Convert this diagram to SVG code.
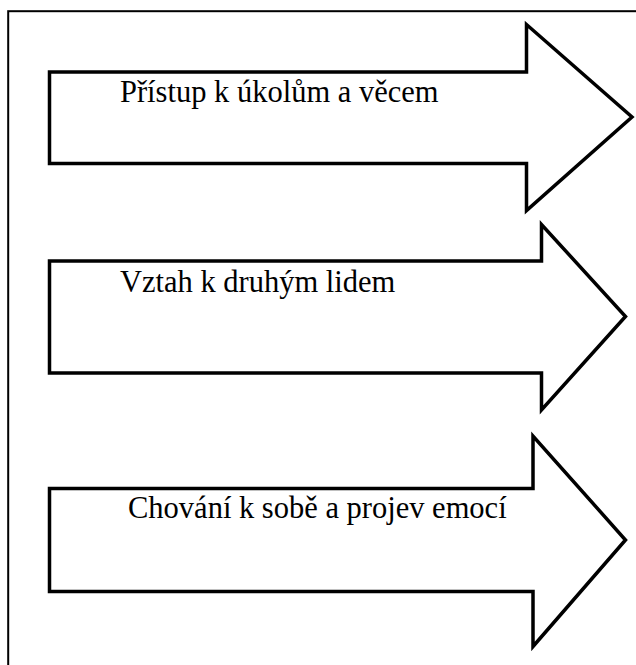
<svg xmlns="http://www.w3.org/2000/svg" width="636" height="665" viewBox="0 0 636 665">
  <style>
    .frame { fill: none; stroke: #000; stroke-width: 2; }
    .arrow { fill: #fff; stroke: #000; stroke-width: 3.5; stroke-linejoin: miter; stroke-miterlimit: 10; }
    .label { font-family: "Liberation Serif", "Times New Roman", serif; font-size: 30.5px; fill: #000; }
  </style>
  <rect width="636" height="665" fill="#fff"/>
  <!-- outer frame, running off the right and bottom edges -->
  <rect class="frame" x="8.2" y="11.2" width="640" height="670"/>
  <g id="connectors"></g>
  <g id="node-ukoly">
    <polygon class="arrow" points="49.5,72 526.5,72 526.5,24.5 632,117 526.5,210.5 526.5,163.5 49.5,163.5"/>
    <text class="label" x="120" y="102">Přístup k úkolům a věcem</text>
  </g>
  <g id="node-lide">
    <polygon class="arrow" points="49.5,261 541.5,261 541.5,224.5 625.5,316.5 541.5,410 541.5,373 49.5,373"/>
    <text class="label" x="120" y="292">Vztah k druhým lidem</text>
  </g>
  <g id="node-emoce">
    <polygon class="arrow" points="49.5,488.5 533,488.5 533,436 625.5,540 533,646.5 533,591.5 49.5,591.5"/>
    <text class="label" x="128" y="518">Chování k sobě a projev emocí</text>
  </g>
</svg>
